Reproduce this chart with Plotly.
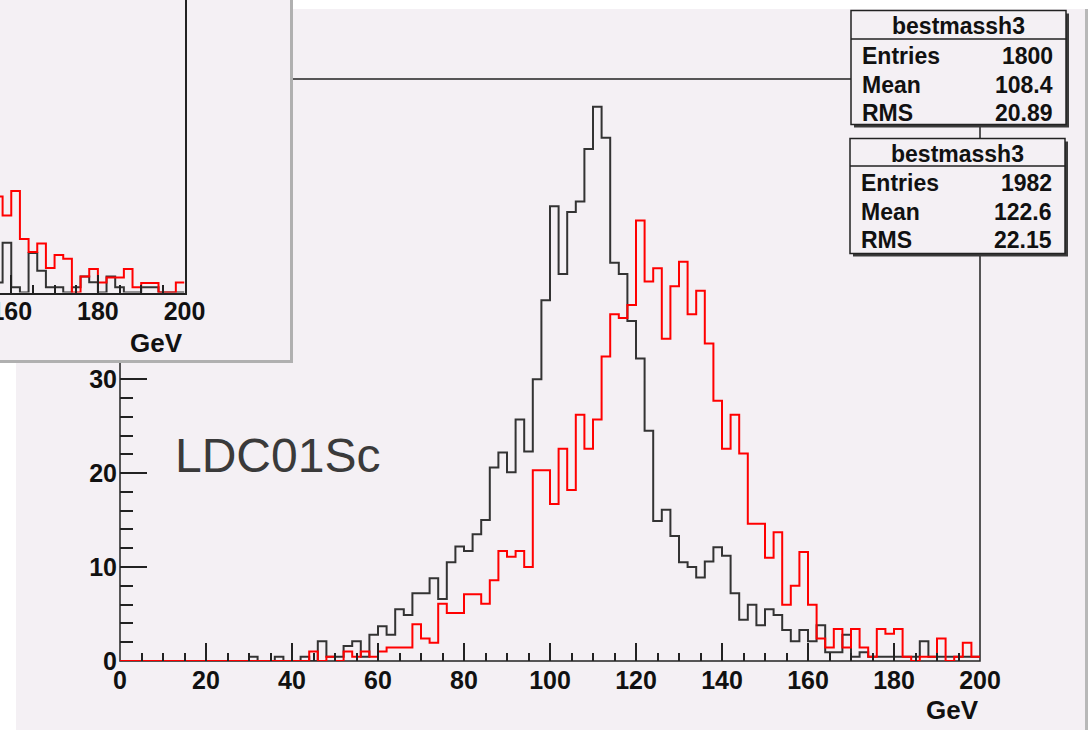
import plotly.graph_objects as go

W, H = 1090, 730

# ---------------- data ----------------
bin_edges = list(range(0, 202, 2))  # 100 bins of 2 GeV, 0..200

black_vals = [
    0, 0, 0, 0, 0, 0, 0, 0, 0, 0,
    0, 0, 0, 0, 0, 0.46, 0, 0, 0.46, 0,
    0, 0.46, 0, 2.1, 0.46, 0.46, 1.6, 2.1, 0.46, 2.8,
    3.7, 2.8, 5.5, 4.9, 7.2, 7.2, 8.8, 6.6, 10.5, 12.2,
    11.7, 13.5, 15.0, 20.6, 22.2, 20.1, 25.7, 22.3, 30.0, 38.4,
    48.4, 41.2, 47.8, 48.9, 54.5, 59.0, 55.7, 42.4, 41.2, 36.2,
    32.2, 24.5, 14.9, 16.1, 13.3, 10.5, 10.0, 8.9, 10.6, 12.1,
    11.2, 7.2, 4.4, 6.0, 3.8, 5.5, 4.9, 3.3, 2.1, 3.3,
    2.1, 3.8, 0.92, 0.92, 2.8, 0.46, 0.92, 0.46, 0.46, 0.46,
    0.46, 0.46, 0.46, 2.1, 0.46, 0.46, 0.46, 0.46, 0.46, 0.46,
]

red_vals = [
    0, 0, 0, 0, 0, 0, 0, 0, 0, 0,
    0, 0, 0, 0, 0, 0, 0, 0, 0, 0,
    0, 0, 1.0, 0, 0.46, 0, 1.0, 0.46, 1.0, 0.46,
    1.0, 1.45, 1.45, 1.45, 3.9, 2.4, 1.95, 6.1, 5.1, 5.1,
    7.1, 7.1, 6.1, 8.6, 11.7, 11.1, 11.7, 10.0, 20.3, 20.3,
    16.7, 22.6, 18.2, 26.2, 22.6, 25.7, 32.4, 36.9, 36.5, 37.9,
    46.9, 40.4, 41.8, 34.3, 39.9, 42.5, 36.9, 39.4, 33.8, 27.7,
    22.6, 26.2, 22.1, 14.6, 14.6, 11.0, 13.7, 6.0, 8.0, 11.6,
    6.0, 2.4, 1.45, 3.4, 1.45, 3.4, 1.45, 0.46, 3.4, 2.9,
    3.4, 0.46, 0, 0.46, 0.46, 2.4, 0, 0.46, 1.95, 0.46,
]

# inset panel (only the visible part, bins 156..200 GeV)
inset_edges = list(range(156, 202, 2))
inset_black = [1.06, 5.3, 0.57, 0, 4.2, 2.3, 0.57, 0.57, 0, 0.57, 1.7,
               1.1, 0, 1.7, 0.57, 0, 0, 0.57, 0.57, 0, 0, 0]
inset_red = [10.2, 8.2, 10.8, 5.7, 4.3, 5.2, 2.6, 4.0, 3.6, 0, 1.7,
             2.5, 1.06, 1.6, 1.6, 2.5, 0.57, 1.0, 1.0, 0, 0, 1.06]

x_major = [0, 20, 40, 60, 80, 100, 120, 140, 160, 180, 200]
y_major = [0, 10, 20, 30]
y_minor = [2, 4, 6, 8, 12, 14, 16, 18, 22, 24, 26, 28]
inset_major = [160, 180, 200]
inset_minor = [165, 170, 175, 185, 190, 195]

stats = [
    ("bestmassh3", "1800", "108.4", "20.89"),
    ("bestmassh3", "1982", "122.6", "22.15"),
]

# ---------------- helpers ----------------
def X(p):
    return p / W

def Y(p):
    return 1 - p / H

CANVAS = "#f4f0f4"
INK = "#222222"
FONT = "Liberation Sans, Arial, sans-serif"

def steps(edges, vals):
    return edges, list(vals) + [vals[-1]]

fig = go.Figure()

bx, by = steps(bin_edges, black_vals)
rx, ry = steps(bin_edges, red_vals)
fig.add_trace(go.Scatter(x=bx, y=by, mode="lines", line=dict(color="#333333", width=2, shape="hv"),
                         xaxis="x", yaxis="y", showlegend=False, hoverinfo="skip"))
fig.add_trace(go.Scatter(x=rx, y=ry, mode="lines", line=dict(color="#ff0000", width=2, shape="hv"),
                         xaxis="x", yaxis="y", showlegend=False, hoverinfo="skip"))

ibx, iby = steps(inset_edges, inset_black)
irx, iry = steps(inset_edges, inset_red)
fig.add_trace(go.Scatter(x=ibx, y=iby, mode="lines", line=dict(color="#333333", width=2, shape="hv"),
                         xaxis="x2", yaxis="y2", showlegend=False, hoverinfo="skip"))
fig.add_trace(go.Scatter(x=irx, y=iry, mode="lines", line=dict(color="#ff0000", width=2, shape="hv"),
                         xaxis="x2", yaxis="y2", showlegend=False, hoverinfo="skip"))

tickfont = dict(family=FONT, size=25, color="#111111", weight="bold")

shapes = []
# canvas
shapes.append(dict(type="rect", xref="paper", yref="paper", x0=X(16), x1=X(1085), y0=Y(9), y1=Y(740),
                   fillcolor=CANVAS, line=dict(width=0), layer="below"))
shapes.append(dict(type="line", xref="paper", yref="paper", x0=X(1086.5), x1=X(1086.5), y0=Y(9), y1=Y(740),
                   line=dict(color="#b8b8b8", width=3), layer="below"))
# main frame
shapes.append(dict(type="rect", xref="paper", yref="paper", x0=X(120), x1=X(980), y0=Y(79), y1=Y(661),
                   line=dict(color=INK, width=1.5), layer="below"))
# inset panel
shapes.append(dict(type="rect", xref="paper", yref="paper", x0=X(-5), x1=X(291.5), y0=Y(-5), y1=Y(361.5),
                   fillcolor=CANVAS, line=dict(color="#b0b0b0", width=3), layer="below"))

# stat boxes
boxes = [(851, 1066, 10.5, 124.5, 39), (850, 1065, 138.5, 253.5, 166)]
for (x0, x1, y0, y1, ys) in boxes:
    shapes.append(dict(type="rect", xref="paper", yref="paper", x0=X(x0 + 3), x1=X(x1 + 3), y0=Y(y0 + 3), y1=Y(y1 + 3),
                       fillcolor="#3a3a3a", line=dict(width=0), layer="above"))
    shapes.append(dict(type="rect", xref="paper", yref="paper", x0=X(x0), x1=X(x1), y0=Y(y0), y1=Y(y1),
                       fillcolor=CANVAS, line=dict(color=INK, width=1.5), layer="above"))
    shapes.append(dict(type="line", xref="paper", yref="paper", x0=X(x0), x1=X(x1), y0=Y(ys), y1=Y(ys),
                       line=dict(color=INK, width=1.5), layer="above"))

annotations = []
annotations.append(dict(text="LDC01Sc", xref="paper", yref="paper", x=X(173), y=Y(455), xanchor="left",
                        yanchor="middle", showarrow=False,
                        font=dict(family=FONT, size=48, color="#3a3a3a")))
annotations.append(dict(text="GeV", xref="paper", yref="paper", x=X(981), y=Y(710), xanchor="right",
                        yanchor="middle", showarrow=False, font=dict(family=FONT, size=26, color="#111111", weight="bold")))
annotations.append(dict(text="GeV", xref="paper", yref="paper", x=X(185), y=Y(343), xanchor="right",
                        yanchor="middle", showarrow=False, font=dict(family=FONT, size=26, color="#111111", weight="bold")))

sfont = dict(family=FONT, size=23, color="#111111", weight="bold")
for (x0, x1, y0, y1, ys), (title, ent, mean, rms) in zip(boxes, stats):
    annotations.append(dict(text=title, xref="paper", yref="paper", x=X((x0 + x1) / 2), y=Y(y0 + 15),
                            xanchor="center", yanchor="middle", showarrow=False, font=sfont))
    for k, (lab, val) in enumerate([("Entries", ent), ("Mean", mean), ("RMS", rms)]):
        yy = ys + 17 + 28.5 * k
        annotations.append(dict(text=lab, xref="paper", yref="paper", x=X(x0 + 9), y=Y(yy),
                                xanchor="left", yanchor="middle", showarrow=False, font=sfont))
        annotations.append(dict(text=val, xref="paper", yref="paper", x=X(x1 - 11), y=Y(yy),
                                xanchor="right", yanchor="middle", showarrow=False, font=sfont))

fig.update_layout(
    template="none",
    width=W, height=H,
    margin=dict(l=0, r=0, t=0, b=0, pad=0),
    paper_bgcolor="white",
    plot_bgcolor="rgba(0,0,0,0)",
    showlegend=False,
    shapes=shapes,
    annotations=annotations,
    xaxis=dict(domain=[X(120), X(980)], range=[0, 200], anchor="y",
               tickmode="array", tickvals=x_major, ticktext=[str(v) for v in x_major],
               ticks="inside", ticklen=18, tickwidth=1.5, tickcolor=INK,
               minor=dict(tickmode="linear", tick0=0, dtick=5, ticks="inside", ticklen=8,
                          tickwidth=1.5, tickcolor=INK, showgrid=False),
               showgrid=False, zeroline=False, showline=False, automargin=False,
               tickfont=tickfont, ticklabelstandoff=2, ticklabeloverflow="allow"),
    yaxis=dict(domain=[Y(661), Y(79)], range=[0, 61.95], anchor="x",
               tickmode="array", tickvals=y_major, ticktext=[str(v) for v in y_major],
               ticks="inside", ticklen=27, tickwidth=1.5, tickcolor=INK,
               minor=dict(tickmode="array", tickvals=y_minor, ticks="inside", ticklen=13,
                          tickwidth=1.5, tickcolor=INK, showgrid=False),
               showgrid=False, zeroline=False, showline=False, automargin=False,
               tickfont=tickfont, ticklabelstandoff=2, ticklabeloverflow="allow"),
    xaxis2=dict(domain=[0, X(184.5)], range=[157.4, 200], anchor="y2",
                tickmode="array", tickvals=inset_major, ticktext=[str(v) for v in inset_major],
                ticks="inside", ticklen=18, tickwidth=1.5, tickcolor=INK,
                minor=dict(tickmode="array", tickvals=inset_minor, ticks="inside",
                           ticklen=8, tickwidth=1.5, tickcolor=INK, showgrid=False),
                showgrid=False, zeroline=False, showline=True, linecolor=INK, linewidth=1.5,
                automargin=False, tickfont=tickfont, ticklabelstandoff=-4,
                ticklabeloverflow="allow"),
    yaxis2=dict(domain=[Y(292.5), 1], range=[0, 31.1], anchor="x2", side="right",
                showticklabels=False, ticks="", showgrid=False, zeroline=False,
                showline=True, linecolor=INK, linewidth=1.5, automargin=False),
)

fig.write_html("out.html")
